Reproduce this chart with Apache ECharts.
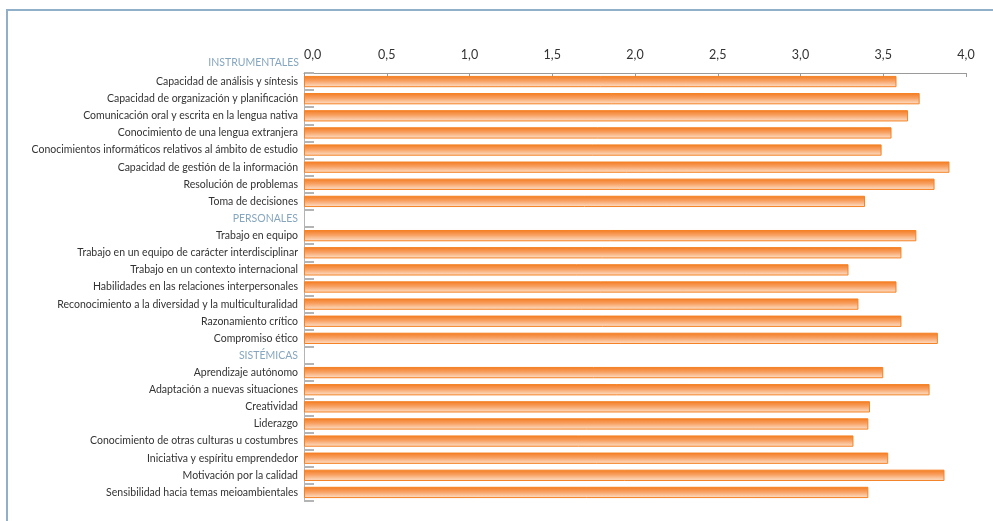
<!DOCTYPE html>
<html>
<head>
<meta charset="utf-8">
<script src="https://cdn.jsdelivr.net/npm/echarts@6/dist/echarts.min.js"></script>
<style>
html,body{margin:0;padding:0;background:#fff;}
#chart{width:993px;height:521px;}
#frame{position:absolute;left:6px;top:9px;width:990px;height:520px;border-top:2px solid #8fb0c8;border-left:2px solid #8fb0c8;pointer-events:none;}
</style>
</head>
<body>
<div id="chart"></div>
<div id="frame"></div>
<script>
// Section header shown above the first row
const firstHeader = 'INSTRUMENTALES';
// Category rows (section headers have no value)
const categories = [
  'Capacidad de análisis y síntesis',
  'Capacidad de organización y planificación',
  'Comunicación oral y escrita en la lengua nativa',
  'Conocimiento de una lengua extranjera',
  'Conocimientos informáticos relativos al ámbito de estudio',
  'Capacidad de gestión de la información',
  'Resolución de problemas',
  'Toma de decisiones',
  'PERSONALES',
  'Trabajo en equipo',
  'Trabajo en un equipo de carácter interdisciplinar',
  'Trabajo en un contexto internacional',
  'Habilidades en las relaciones interpersonales',
  'Reconocimiento a la diversidad y la multiculturalidad',
  'Razonamiento crítico',
  'Compromiso ético',
  'SISTÉMICAS',
  'Aprendizaje autónomo',
  'Adaptación a nuevas situaciones',
  'Creatividad',
  'Liderazgo',
  'Conocimiento de otras culturas u costumbres',
  'Iniciativa y espíritu emprendedor',
  'Motivación por la calidad',
  'Sensibilidad hacia temas meioambientales'
];
const headers = ['PERSONALES', 'SISTÉMICAS'];
const values = [
  3.58, 3.72, 3.65, 3.55, 3.49, 3.90, 3.81, 3.39,
  null,
  3.70, 3.61, 3.29, 3.58, 3.35, 3.61, 3.83,
  null,
  3.50, 3.78, 3.42, 3.41, 3.32, 3.53, 3.87, 3.41
];
const xTicks = [0, 0.5, 1.0, 1.5, 2.0, 2.5, 3.0, 3.5, 4.0];

const chart = echarts.init(document.getElementById('chart'));
const labelFont = 'Lato';
chart.setOption({
  animation: false,
  grid: { left: 304, right: 27, top: 73, bottom: 20, containLabel: false },
  xAxis: {
    type: 'value',
    position: 'top',
    min: xTicks[0],
    max: xTicks[xTicks.length - 1],
    interval: 0.5,
    name: firstHeader,
    nameLocation: 'start',
    nameGap: 5,
    nameMoveOverlap: false,
    nameTextStyle: { color: '#86a6bf', fontFamily: labelFont, fontSize: 10.5, align: 'right', verticalAlign: 'bottom', padding: [0, 0, 5, 0] },
    axisLine: { show: true, lineStyle: { color: '#9a9a9a', width: 1 } },
    axisTick: { show: true, inside: true, length: 4, lineStyle: { color: '#9a9a9a' } },
    axisLabel: {
      margin: 12,
      color: '#333',
      fontFamily: labelFont,
      fontSize: 12.5,
      alignMinLabel: 'left',
      formatter: v => v.toFixed(1).replace('.', ',')
    },
    splitLine: { show: false }
  },
  yAxis: {
    type: 'category',
    inverse: true,
    data: categories.map(c => headers.includes(c)
      ? { value: c, textStyle: { color: '#86a6bf' } }
      : c),
    axisLine: { show: true, lineStyle: { color: '#b4b4b4', width: 1 } },
    axisTick: { show: true, inside: true, length: 10, lineStyle: { color: '#b4b4b4', width: 2 } },
    axisLabel: { margin: 6, color: '#333', fontFamily: labelFont, fontSize: 10.5 }
  },
  series: [{
    type: 'bar',
    data: values,
    barCategoryGap: '34%',
    itemStyle: {
      color: new echarts.graphic.LinearGradient(0, 0, 0, 1, [
        { offset: 0, color: '#f37a1f' },
        { offset: 0.45, color: '#f8a163' },
        { offset: 1, color: '#fde3cf' }
      ]),
      borderColor: '#f58224',
      borderWidth: 1
    }
  }]
});
</script>
</body>
</html>
